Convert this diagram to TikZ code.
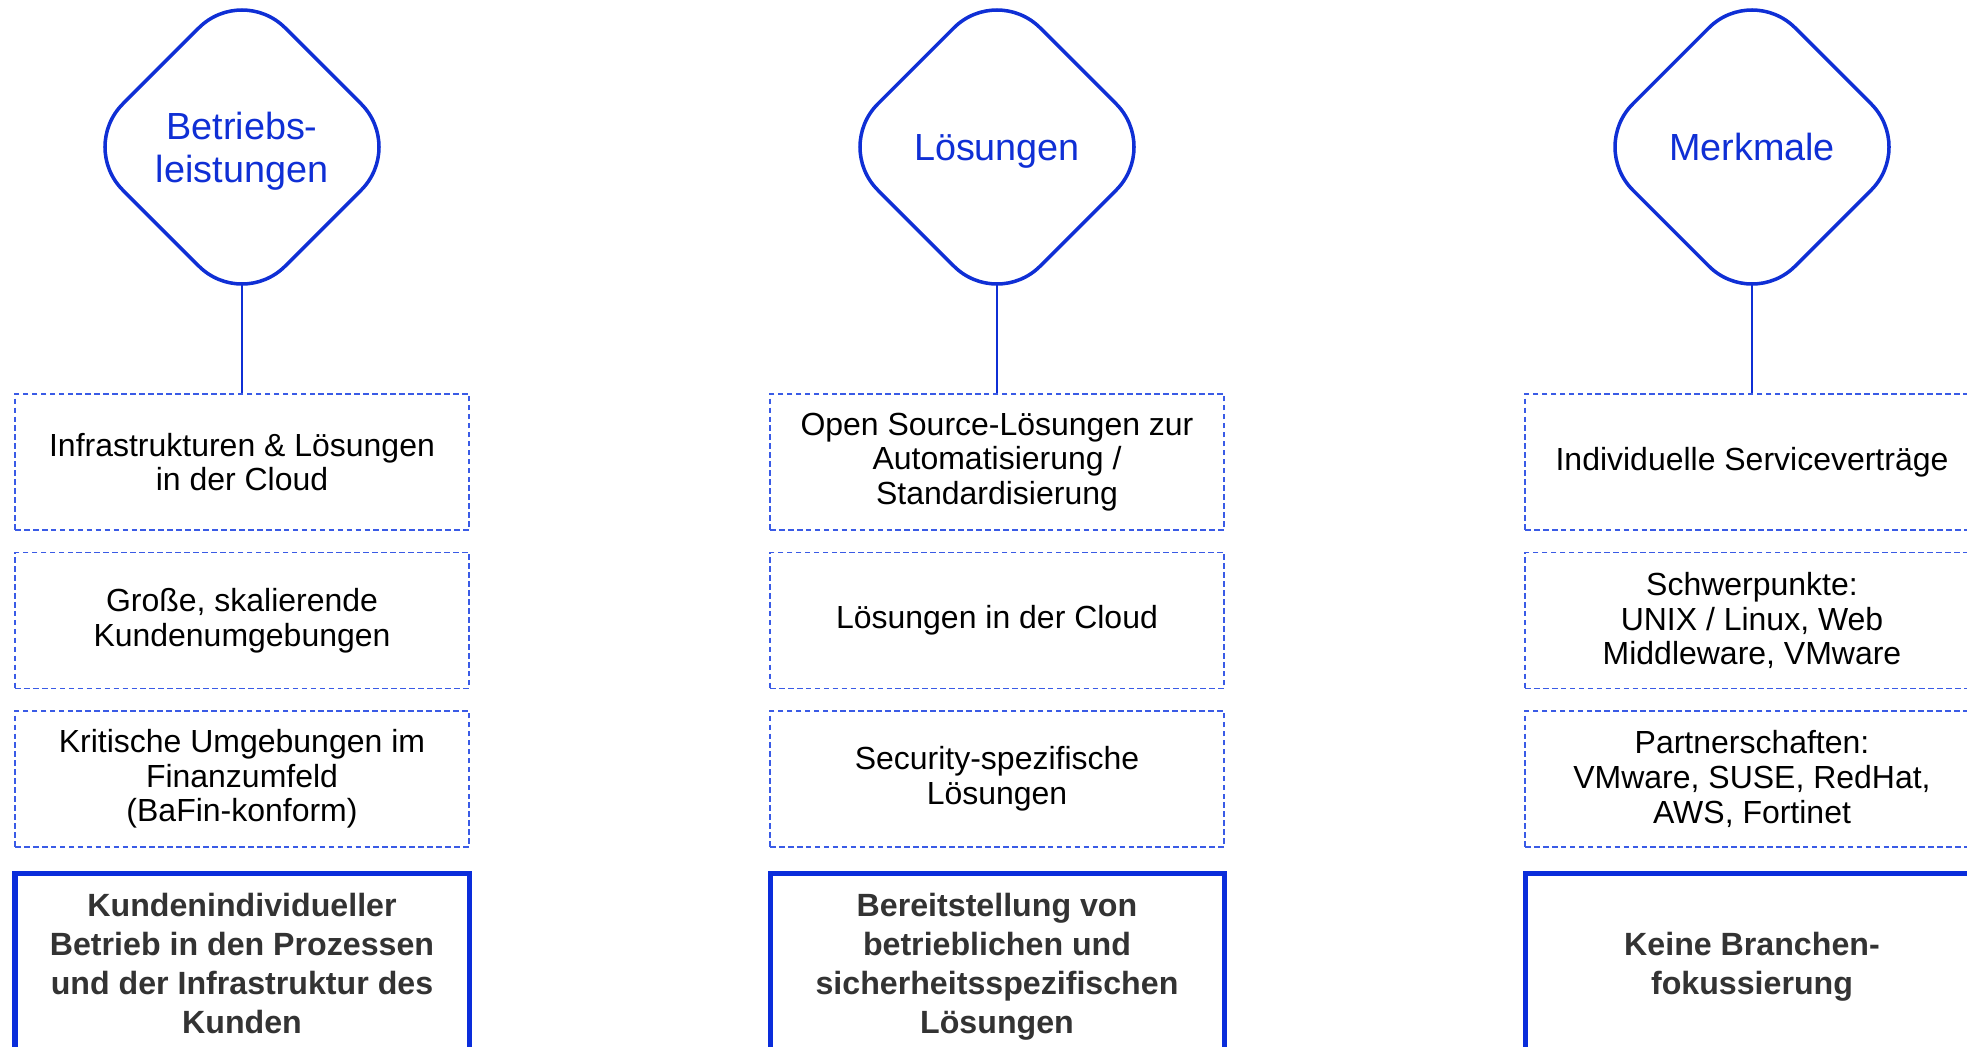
\documentclass[tikz,border=0pt]{standalone}
\usepackage{fontspec}
\setmainfont{Liberation Sans}
\usetikzlibrary{shapes.geometric,backgrounds}
\definecolor{topicblue}{HTML}{0F2FD5}
\definecolor{itemblue}{HTML}{3A5BE6}
\definecolor{sumblue}{HTML}{0A2DDB}
\definecolor{sumgray}{HTML}{333333}

\begin{document}
\begin{tikzpicture}[
    topic/.style={diamond, aspect=1, draw=topicblue, line width=2pt, fill=white,
        rounded corners=1.22cm, minimum width=6.52cm, minimum height=6.52cm,
        inner sep=0pt, align=center, text=topicblue, text depth=0pt,
        font=\fontsize{21.5}{24.5}\selectfont},
    item/.style={draw=itemblue, line width=0.85pt, dash pattern=on 3.2pt off 1.9pt,
        minimum width=9.08cm, minimum height=2.72cm, inner sep=0pt, align=center,
        font=\fontsize{18.2}{19.7}\selectfont},
    summary/.style={draw=sumblue, line width=2.85pt, minimum width=9.08cm,
        minimum height=3.6cm, inner sep=0pt, align=center, text=sumgray, text depth=0pt,
        font=\bfseries\fontsize{18.3}{22.2}\selectfont},
    link/.style={draw=topicblue, line width=1.4pt}]

            % page frame
            \clip (0,0) rectangle (39.34,-20.92);

            % Betriebsleistungen
            \node[topic] (betrieb) at (4.84,-2.94) {Betriebs-\\leistungen};
            \node[item] (betrieb1) at (4.84,-9.24) {Infrastrukturen \& Lösungen\\in der Cloud};
            \node[item] (betrieb2) at (4.84,-12.41) {Große, skalierende\\Kundenumgebungen};
            \node[item] (betrieb3) at (4.84,-15.58) {Kritische Umgebungen im\\Finanzumfeld\\(BaFin-konform)};
            \node[summary] (betriebsum) at (4.84,-19.26) {Kundenindividueller\\Betrieb in den Prozessen\\und der Infrastruktur des\\Kunden};

            % Loesungen
            \node[topic] (loesung) at (19.94,-2.94) {Lösungen};
            \node[item] (loesung1) at (19.94,-9.24) {Open Source-Lösungen zur\\Automatisierung /\\Standardisierung};
            \node[item] (loesung2) at (19.94,-12.41) {Lösungen in der Cloud};
            \node[item] (loesung3) at (19.94,-15.58) {Security-spezifische\\Lösungen};
            \node[summary] (loesungsum) at (19.94,-19.26) {Bereitstellung von\\betrieblichen und\\sicherheitsspezifischen\\Lösungen};

            % Merkmale
            \node[topic] (merkmal) at (35.04,-2.94) {Merkmale};
            \node[item] (merkmal1) at (35.04,-9.24) {Individuelle Serviceverträge};
            \node[item] (merkmal2) at (35.04,-12.41) {Schwerpunkte:\\UNIX / Linux, Web\\Middleware, VMware};
            \node[item] (merkmal3) at (35.04,-15.58) {Partnerschaften:\\VMware, SUSE, RedHat,\\AWS, Fortinet};
            \node[summary] (merkmalsum) at (35.04,-19.26) {Keine Branchen-\\fokussierung};

            % lines from the diamonds down to the first box
            \begin{scope}[on background layer]
                \draw[link] (betrieb.center) -- (betrieb1.north);
                \draw[link] (loesung.center) -- (loesung1.north);
                \draw[link] (merkmal.center) -- (merkmal1.north);
            \end{scope}
\end{tikzpicture}
\end{document}
